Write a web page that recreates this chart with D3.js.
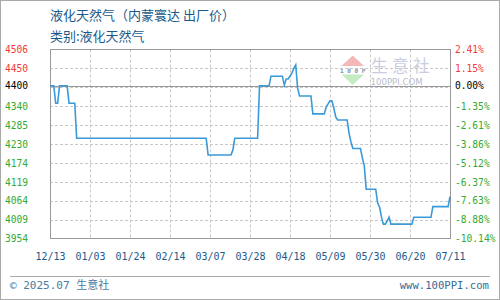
<!DOCTYPE html>
<html><head><meta charset="utf-8">
<script src="https://cdn.jsdelivr.net/npm/d3@7"></script>
<style>
html,body{margin:0;padding:0;background:#fff;}
svg{display:block;}
</style></head>
<body><svg id="c" width="500" height="300"></svg>
<script>
// ---- data ----
const dates = ["2024-12-13","2024-12-15","2024-12-16","2024-12-17","2024-12-18","2024-12-22","2024-12-23","2024-12-26","2024-12-27",
"2025-03-05","2025-03-06","2025-03-18","2025-03-19","2025-03-20","2025-04-01","2025-04-02","2025-04-07","2025-04-08","2025-04-14",
"2025-04-15","2025-04-16","2025-04-17","2025-04-18","2025-04-19","2025-04-20","2025-04-21","2025-04-22","2025-04-23","2025-04-29",
"2025-04-30","2025-05-06","2025-05-07","2025-05-08","2025-05-09","2025-05-10","2025-05-11","2025-05-12","2025-05-13","2025-05-18",
"2025-05-19","2025-05-20","2025-05-21","2025-05-25","2025-05-26","2025-05-27","2025-05-28","2025-06-02","2025-06-03","2025-06-04",
"2025-06-05","2025-06-06","2025-06-07","2025-06-08","2025-06-09","2025-06-10","2025-06-21","2025-06-22","2025-07-01","2025-07-02",
"2025-07-10","2025-07-11"];
const prices = [4400,4400,4349,4349,4400,4400,4349,4349,4247,
4247,4198,4198,4212,4247,4247,4400,4400,4428,4428,
4402,4420,4420,4428,4437,4451,4461,4393,4370,4370,
4318,4318,4338,4347,4356,4356,4335,4309,4300,4300,
4262,4236,4217,4217,4189,4166,4098,4098,4058,4046,
4017,3996,3996,4005,4016,3996,3996,4016,4016,4047,
4047,4076];
const xTickDates = ["2024-12-13","2025-01-03","2025-01-24","2025-02-14","2025-03-07","2025-03-28","2025-04-18","2025-05-09","2025-05-30","2025-06-20","2025-07-11"];
const yTickValues = [4506,4450,4400,4340,4285,4230,4174,4119,4064,4009,3954];
const pctLabels = ["2.41%","1.15%","0.00%","-1.35%","-2.61%","-3.86%","-5.12%","-6.37%","-7.63%","-8.88%","-10.14%"];
const basePrice = 4400;
const title = "液化天然气（内蒙寰达 出厂价）";
const subtitle = "类别:液化天然气";
const footerLeft = "© 2025.07 生意社";
const footerRight = "www.100PPI.com";

// ---- layout ----
const L = 50, R = 450, T = 49.5, B = 238.5;
const parse = d3.utcParse("%Y-%m-%d");
const svg = d3.select("#c");
const x = d3.scaleUtc().domain([parse(xTickDates[0]), parse(xTickDates[xTickDates.length-1])]).range([L, R]);
const y = d3.scaleLinear().domain([3954, 4506]).range([B, T]);

const blue = "#1a5a8a", red = "#f03c3c", green = "#33aa33";
const colorFor = v => v > basePrice ? red : (v < basePrice ? green : "#000");

// outer frame
svg.append("rect").attr("x",0.5).attr("y",0.5).attr("width",499).attr("height",299)
  .attr("fill","none").attr("stroke","#aaa");

// titles
svg.append("text").attr("x",50).attr("y",20).attr("fill",blue)
  .attr("font-family","'Noto Sans CJK SC'").attr("font-size",13).text(title);
svg.append("text").attr("x",50).attr("y",41).attr("fill",blue)
  .attr("font-family","'Noto Sans CJK SC'").attr("font-size",13).text(subtitle);

// watermark
const wm = svg.append("g");
wm.append("path").attr("d","M352.7,55.5 L364,66 L341.5,66 Z").attr("fill","#f5b8b8");
wm.append("path").attr("d","M341.5,74.5 L364,74.5 L352.7,85 Z").attr("fill","#c4ebc4");
wm.append("text").attr("x",352.7).attr("y",73).attr("text-anchor","middle").attr("fill","#7f8fb0")
  .attr("font-family","'DejaVu Sans Mono'").attr("font-size",6).attr("font-weight","bold").text("1 0 0 P");
wm.append("text").attr("x",371).attr("y",71.5).attr("fill","#c9cde0")
  .attr("font-family","'Noto Sans CJK SC'").attr("font-size",16.5).attr("letter-spacing",4.5).text("生意社");
wm.append("text").attr("x",370.5).attr("y",84.5).attr("fill","#b9bccb")
  .attr("font-family","'DejaVu Sans'").attr("font-size",8.6).text("100PPI.COM");

// grid
const grid = svg.append("g").attr("stroke","#c8c8c8").attr("stroke-dasharray","3,2").attr("fill","none");
const gridVals = d3.range(1,10).map(i => 3954 + i*(4506-3954)/10);
gridVals.forEach(v => {
  const yy = Math.round(y(v)) + 0.5;
  grid.append("line").attr("x1",L).attr("x2",R).attr("y1",yy).attr("y2",yy);
});
xTickDates.slice(1,-1).forEach(d => {
  const xx = Math.round(x(parse(d))) + 0.5;
  grid.append("line").attr("x1",xx).attr("x2",xx).attr("y1",T).attr("y2",B);
});

// baseline
const by = Math.round(y(basePrice)) + 0.5;
svg.append("line").attr("x1",L).attr("x2",R).attr("y1",by).attr("y2",by).attr("stroke","#999");

// border
svg.append("rect").attr("x",L+0.5).attr("y",T).attr("width",R-L).attr("height",B-T)
  .attr("fill","none").attr("stroke","#999");

// line
const line = d3.line().x((d,i) => x(parse(dates[i]))).y(d => y(d));
svg.append("path").datum(prices).attr("d",line).attr("fill","none")
  .attr("stroke","#3a9ad8").attr("stroke-width",1.6).attr("stroke-linejoin","miter");

// left axis
const la = svg.append("g").attr("transform",`translate(${L},0)`)
  .call(d3.axisLeft(y).tickValues(yTickValues).tickFormat(d3.format("d")).tickSize(0).tickPadding(22));
la.select(".domain").remove();
la.selectAll("text").attr("font-family","'DejaVu Sans Mono'").attr("font-size",9.6)
  .attr("text-anchor","start").attr("x",-45).attr("fill",d => colorFor(d));

// right axis
const ra = svg.append("g").attr("transform",`translate(${R},0)`)
  .call(d3.axisRight(y).tickValues(yTickValues).tickFormat((d,i) => pctLabels[i]).tickSize(0).tickPadding(5));
ra.select(".domain").remove();
ra.selectAll("text").attr("font-family","'DejaVu Sans Mono'").attr("font-size",9.6)
  .attr("fill",d => colorFor(d));

// bottom axis
const ba = svg.append("g").attr("transform",`translate(0,${B})`)
  .call(d3.axisBottom(x).tickValues(xTickDates.map(parse)).tickFormat(d3.utcFormat("%m/%d")).tickSize(0).tickPadding(14));
ba.select(".domain").remove();
ba.selectAll("text").attr("font-family","'DejaVu Sans Mono'").attr("font-size",10).attr("fill",blue);

// footer
svg.append("line").attr("x1",10).attr("x2",490).attr("y1",276.5).attr("y2",276.5).attr("stroke","#aaa");
svg.append("text").attr("x",10).attr("y",289).attr("fill","#4a7aa0")
  .attr("font-family","'DejaVu Sans Mono','Noto Sans CJK SC'").attr("font-size",11).text(footerLeft);
svg.append("text").attr("x",489).attr("y",289).attr("text-anchor","end").attr("fill","#3a6a95")
  .attr("font-family","'DejaVu Sans Mono'").attr("font-size",10.6).text(footerRight);
</script></body></html>
